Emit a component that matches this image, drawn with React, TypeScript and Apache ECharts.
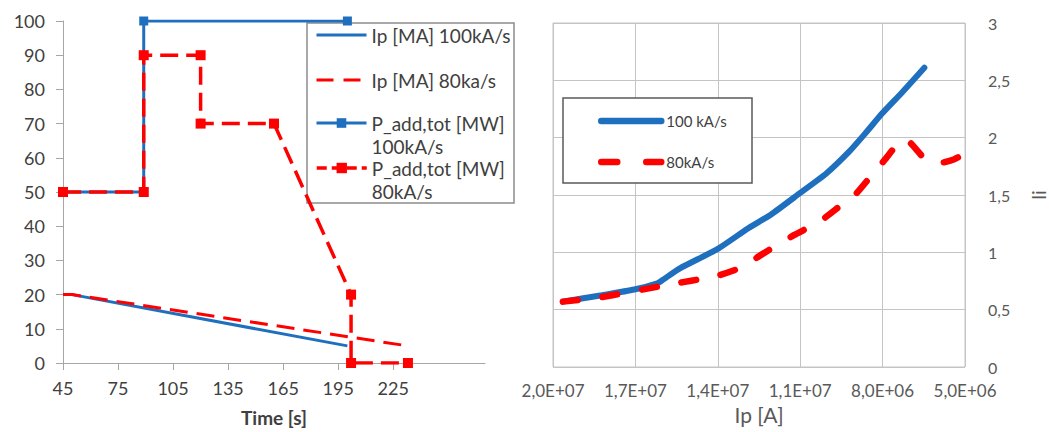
import React, { useEffect, useRef } from "react";
import * as echarts from "echarts";

// ---------- Left chart data ----------
const xTicksLeft = [45, 75, 105, 135, 165, 195, 225, 255];
const ip100: number[][] = [[45, 20], [50, 20], [200, 5]];
const ip80: number[][] = [[45, 20], [50, 20], [233, 5]];
const pAdd100: number[][] = [[45, 50], [89, 50], [89, 100], [200, 100]];
const pAdd80: number[][] = [
  [45, 50], [89, 50], [89, 90], [120, 90], [120, 70], [160, 70], [202, 20], [202, 0], [233, 0],
];
const leftNames = ["Ip [MA] 100kA/s", "Ip [MA] 80ka/s", "P_add,tot [MW]\n100kA/s", "P_add,tot [MW]\n80kA/s"];

// ---------- Right chart data ----------
const li100: number[][] = [
  [1.964e7, 0.57], [1.822e7, 0.626], [1.704e7, 0.676], [1.62e7, 0.73], [1.6e7, 0.76],
  [1.538e7, 0.86], [1.4e7, 1.03], [1.289e7, 1.21], [1.206e7, 1.33], [1.099e7, 1.52],
  [1.004e7, 1.69], [0.921e7, 1.88], [0.862e7, 2.04], [0.802e7, 2.21], [0.731e7, 2.39], [0.648e7, 2.61],
];
const li80: number[][] = [
  [1.964e7, 0.57], [1.822e7, 0.61], [1.62e7, 0.7], [1.526e7, 0.74], [1.478e7, 0.76],
  [1.395e7, 0.8], [1.312e7, 0.87], [1.241e7, 0.98], [1.123e7, 1.15], [1.028e7, 1.27],
  [0.957e7, 1.4], [0.897e7, 1.51], [0.844e7, 1.66], [0.791e7, 1.81], [0.737e7, 1.97],
  [0.713e7, 1.98], [0.648e7, 1.82], [0.589e7, 1.78], [0.541e7, 1.81], [0.5e7, 1.86],
];
const rightNames = ["100 kA/s", "80kA/s"];

const BLUE = "#1f6fbf";
const RED = "#ff0000";
const FONT = "Lato, 'Open Sans', sans-serif";

function sciComma(v: number): string {
  if (v === 0) return "0,0E+00";
  const e = Math.floor(Math.log10(Math.abs(v)) + 1e-9);
  const m = v / Math.pow(10, e);
  return m.toFixed(1).replace(".", ",") + "E+" + String(e).padStart(2, "0");
}

type LegOpts = {
  w: number; h: number; fontSize: number; lh: number; twoLine?: boolean;
  hideSymbol?: boolean; lineWidth: number; dash?: number[] | string; cap?: string;
};

function leg(name: string, left: number, top: number, o: LegOpts) {
  const l: any = {
    show: true,
    selectedMode: false,
    orient: "vertical",
    left,
    top,
    padding: 0,
    itemWidth: o.w,
    itemHeight: o.h,
    textStyle: { fontSize: o.fontSize, color: "#404040", fontFamily: FONT, lineHeight: o.lh },
    lineStyle: { width: o.lineWidth, type: o.dash || "solid", cap: o.cap || "butt" },
    data: [name],
  };
  if (o.hideSymbol) l.itemStyle = { opacity: 0 };
  if (o.twoLine) l.formatter = (n: string) => "\n" + n;
  return l;
}

export default function App() {
  const ref = useRef<HTMLDivElement>(null);
  useEffect(() => {
    document.body.style.margin = "0";
    if (!ref.current) return;
    const chart = echarts.init(ref.current, undefined, { renderer: "svg" });
    const axisGray = "#a6a6a6";
    const gridGray = "#c4c4c4";
    chart.setOption({
      animation: false,
      backgroundColor: "#ffffff",
      grid: [
        { left: 63, top: 21, width: 422, height: 342, containLabel: false },
        { left: 553, top: 23, width: 422, height: 344, containLabel: false, show: true, borderColor: gridGray, borderWidth: 1 },
      ],
      xAxis: [
        {
          type: "value", gridIndex: 0, min: 45, max: 275, interval: 30,
          axisLine: { show: true, lineStyle: { color: axisGray, width: 1 } },
          axisTick: { show: true, length: 7, lineStyle: { color: axisGray }, customValues: xTicksLeft },
          axisLabel: { customValues: xTicksLeft, margin: 16, fontSize: 18, color: "#404040", fontFamily: FONT, showMaxLabel: false },
          splitLine: { show: false },
          name: "Time [s]", nameLocation: "middle", nameGap: 45,
          nameTextStyle: { fontWeight: "bold", fontSize: 19, color: "#404040", fontFamily: FONT },
        },
        {
          type: "value", gridIndex: 1, inverse: true, min: 5e6, max: 2e7, interval: 3e6,
          axisLine: { show: false },
          axisTick: { show: false },
          axisLabel: { formatter: (v: number) => sciComma(v), margin: 15, fontSize: 17, color: "#595959", fontFamily: FONT },
          splitLine: { show: true, lineStyle: { color: gridGray, width: 1 } },
          name: "Ip [A]", nameLocation: "middle", nameGap: 35,
          nameTextStyle: { fontSize: 21, color: "#595959", fontFamily: FONT },
        },
      ],
      yAxis: [
        {
          type: "value", gridIndex: 0, min: 0, max: 100, interval: 10,
          axisLine: { show: true, lineStyle: { color: axisGray, width: 1 } },
          axisTick: { show: true, length: 7, lineStyle: { color: axisGray } },
          axisLabel: { margin: 18, fontSize: 18, color: "#404040", fontFamily: FONT },
          splitLine: { show: false },
        },
        {
          type: "value", gridIndex: 1, position: "right", min: 0, max: 3, interval: 0.5,
          axisLine: { show: false },
          axisTick: { show: false },
          axisLabel: { formatter: (v: number) => String(v).replace(".", ","), margin: 23, fontSize: 16, color: "#595959", fontFamily: FONT },
          splitLine: { show: true, lineStyle: { color: gridGray, width: 1 } },
          name: "li", nameLocation: "middle", nameRotate: 90, nameGap: 63,
          nameTextStyle: { fontSize: 20, color: "#595959", fontFamily: FONT },
        },
      ],
      legend: [
        leg(leftNames[0], 315, 23.5, { w: 50, h: 12, fontSize: 19, lh: 23, hideSymbol: true, lineWidth: 3 }),
        leg(leftNames[1], 315, 68.5, { w: 50, h: 12, fontSize: 19, lh: 23, hideSymbol: true, lineWidth: 3, dash: [17, 10] }),
        leg(leftNames[2], 315, 88.5, { w: 50, h: 12, fontSize: 19, lh: 23, twoLine: true, lineWidth: 3 }),
        leg(leftNames[3], 315, 133.5, { w: 50, h: 13, fontSize: 19, lh: 23, twoLine: true, lineWidth: 3.5, dash: [10, 5] }),
        leg(rightNames[0], 598, 112, { w: 60, h: 10, fontSize: 15, lh: 18, hideSymbol: true, lineWidth: 6.5, cap: "round" }),
        leg(rightNames[1], 598, 153, { w: 60, h: 10, fontSize: 15, lh: 18, hideSymbol: true, lineWidth: 6.5, dash: [16, 29], cap: "round" }),
      ],
      graphic: [
        { type: "rect", z: 3, shape: { x: 307, y: 23, width: 207, height: 180 }, style: { fill: "#ffffff", stroke: "#8c8c8c", lineWidth: 1.5 } },
        { type: "rect", z: 3, shape: { x: 563, y: 98, width: 189, height: 85 }, style: { fill: "#ffffff", stroke: "#595959", lineWidth: 1.5 } },
      ],
      series: [
        {
          name: leftNames[0], type: "line", xAxisIndex: 0, yAxisIndex: 0, data: ip100,
          symbol: "none", showSymbol: false, lineStyle: { color: BLUE, width: 3 }, itemStyle: { color: BLUE },
        },
        {
          name: leftNames[2], type: "line", xAxisIndex: 0, yAxisIndex: 0, data: pAdd100,
          symbol: "rect", symbolSize: 9, lineStyle: { color: BLUE, width: 3 }, itemStyle: { color: BLUE },
        },
        {
          name: leftNames[1], type: "line", xAxisIndex: 0, yAxisIndex: 0, data: ip80,
          symbol: "none", showSymbol: false, lineStyle: { color: RED, width: 3, type: [18, 9] }, itemStyle: { color: RED },
        },
        {
          name: leftNames[3], type: "line", xAxisIndex: 0, yAxisIndex: 0, data: pAdd80,
          symbol: "rect", symbolSize: 10, lineStyle: { color: RED, width: 3.5, type: [18, 8] }, itemStyle: { color: RED },
        },
        {
          name: rightNames[0], type: "line", xAxisIndex: 1, yAxisIndex: 1, data: li100, smooth: 0.2,
          symbol: "none", showSymbol: false, lineStyle: { color: BLUE, width: 6, cap: "round" }, itemStyle: { color: BLUE },
        },
        {
          name: rightNames[1], type: "line", xAxisIndex: 1, yAxisIndex: 1, data: li80, smooth: 0.15,
          symbol: "none", showSymbol: false, lineStyle: { color: RED, width: 6.5, type: [15, 25], cap: "round" }, itemStyle: { color: RED },
        },
      ],
    });
    return () => chart.dispose();
  }, []);
  return <div ref={ref} style={{ width: 1049, height: 432 }} />;
}
